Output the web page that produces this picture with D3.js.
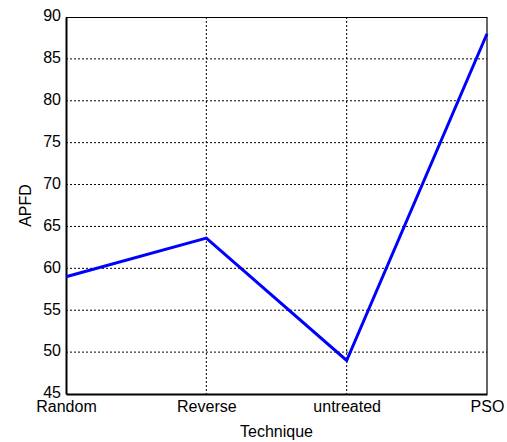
<!DOCTYPE html>
<html>
<head>
<meta charset="utf-8">
<script src="https://cdn.jsdelivr.net/npm/d3@7"></script>
<style>
  html, body { margin: 0; padding: 0; background: #fff; }
  svg { display: block; font-family: "Liberation Sans", Arial, sans-serif; }
</style>
</head>
<body>
<svg id="chart" width="507" height="442"></svg>
<script>
// APFD per prioritisation technique
const categories = ["Random", "Reverse", "untreated", "PSO"];
const apfd = [59.0, 63.6, 49.0, 88.0];
const yTicks = [45, 50, 55, 60, 65, 70, 75, 80, 85, 90];

const svg = d3.select("#chart");
const margin = { left: 66, right: 20, top: 17, bottom: 48 };
const W = 507, H = 442;
const iw = W - margin.left - margin.right;
const ih = H - margin.top - margin.bottom;

const x = d3.scalePoint().domain(categories).range([0, iw]).padding(0);
const y = d3.scaleLinear().domain([45, 90]).range([ih, 0]);

const g = svg.append("g").attr("transform", `translate(${margin.left},${margin.top})`);

// dotted grid
g.append("g").selectAll("line").data(yTicks.slice(1, -1)).join("line")
  .attr("x1", 0).attr("x2", iw)
  .attr("y1", d => y(d)).attr("y2", d => y(d))
  .attr("stroke", "#000").attr("stroke-width", 1).attr("stroke-dasharray", "2,2");
g.append("g").selectAll("line").data(categories.slice(1, -1)).join("line")
  .attr("x1", d => x(d)).attr("x2", d => x(d))
  .attr("y1", 0).attr("y2", ih)
  .attr("stroke", "#000").attr("stroke-width", 1).attr("stroke-dasharray", "2,2");

// frame: thin top/right, heavier left/bottom
g.append("line").attr("x1", 0).attr("x2", iw).attr("y1", 0.5).attr("y2", 0.5)
  .attr("stroke", "#000").attr("stroke-width", 1.2);
g.append("line").attr("x1", iw).attr("x2", iw).attr("y1", 0).attr("y2", ih)
  .attr("stroke", "#000").attr("stroke-width", 1.2);

// y axis
const yAxis = g.append("g")
  .call(d3.axisLeft(y).tickValues(yTicks).tickSize(0).tickPadding(5));
yAxis.select(".domain").attr("stroke-width", 2);
yAxis.selectAll("text").attr("font-size", 16).attr("fill", "#000")
  .attr("dy", "0.24em")
  .attr("font-family", "Liberation Sans, Arial, sans-serif");

// x axis
const xAxis = g.append("g").attr("transform", `translate(0,${ih})`)
  .call(d3.axisBottom(x).tickSize(0).tickPadding(7));
xAxis.select(".domain").attr("stroke-width", 2);
xAxis.selectAll("text").attr("font-size", 16).attr("fill", "#000")
  .attr("font-family", "Liberation Sans, Arial, sans-serif");

// data line
const line = d3.line().x((d, i) => x(categories[i])).y(d => y(d));
g.append("path").datum(apfd)
  .attr("d", line)
  .attr("fill", "none")
  .attr("stroke", "#0000ff")
  .attr("stroke-width", 3)
  .attr("stroke-linejoin", "miter");

// axis titles
svg.append("text")
  .attr("x", margin.left + iw / 2).attr("y", 437)
  .attr("text-anchor", "middle").attr("font-size", 16).text("Technique");
svg.append("text")
  .attr("transform", `translate(31,${margin.top + ih / 2}) rotate(-90)`)
  .attr("text-anchor", "middle").attr("font-size", 16).text("APFD");
</script>
</body>
</html>
